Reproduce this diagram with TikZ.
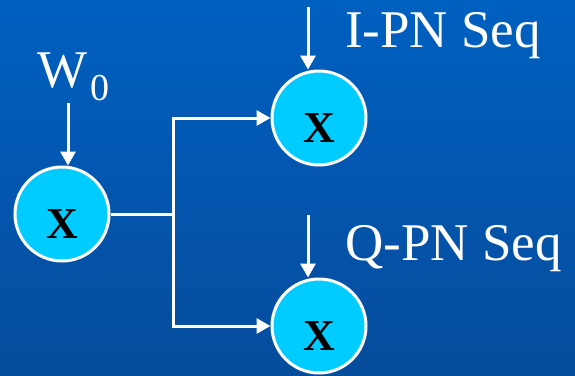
\documentclass[tikz,border=0pt]{standalone}
\usepackage{fontspec}
\setmainfont{Liberation Serif}
\usetikzlibrary{arrows.meta}
\definecolor{bgtop}{RGB}{0,96,192}
\definecolor{bgbot}{RGB}{6,76,156}
\definecolor{cyanfill}{RGB}{0,204,255}
\tikzset{
  mult/.style={circle, draw=white, line width=3pt, fill=cyanfill, minimum size=94pt, inner sep=0pt,
    font=\fontsize{44}{44}\selectfont\bfseries, text height=49pt, text depth=0pt},
  wire/.style={draw=white, line width=3pt},
  arr/.style={wire, -{Triangle[length=14pt,width=15pt]}},
  lbl/.style={text=white, inner sep=0pt, anchor=base west, font=\fontsize{53}{53}\selectfont}
}
\begin{document}
\begin{tikzpicture}[x=1pt,y=-1pt]
\shade[top color=bgtop, bottom color=bgbot] (0,0) rectangle (575,375);
\useasboundingbox (0,0) rectangle (575,375);
\node[mult] (c1) at (62,214) {X};
\node[mult] (c2) at (319,118) {X};
\node[mult] (c3) at (319,326) {X};
\node[lbl] (w0) at (37,87) {W\raisebox{-13pt}{\hspace{3pt}\fontsize{38}{38}\selectfont 0}};
\node[lbl] (ipn) at (345,47) {I-PN Seq};
\node[lbl] (qpn) at (345,260) {Q-PN Seq};
\coordinate (wtop) at (68,103);
\coordinate (itop) at (308,7);
\coordinate (qtop) at (308,215);
\coordinate (j) at (173,214);
\draw[arr] (wtop) -- (wtop |- c1.north);
\draw[arr] (itop) -- (itop |- c2.north);
\draw[arr] (qtop) -- (qtop |- c3.north);
\draw[wire] (c1.east) -- (j);
\draw[arr] (j) |- (c2.west);
\draw[arr] (j) |- (c3.west);
\end{tikzpicture}
\end{document}
